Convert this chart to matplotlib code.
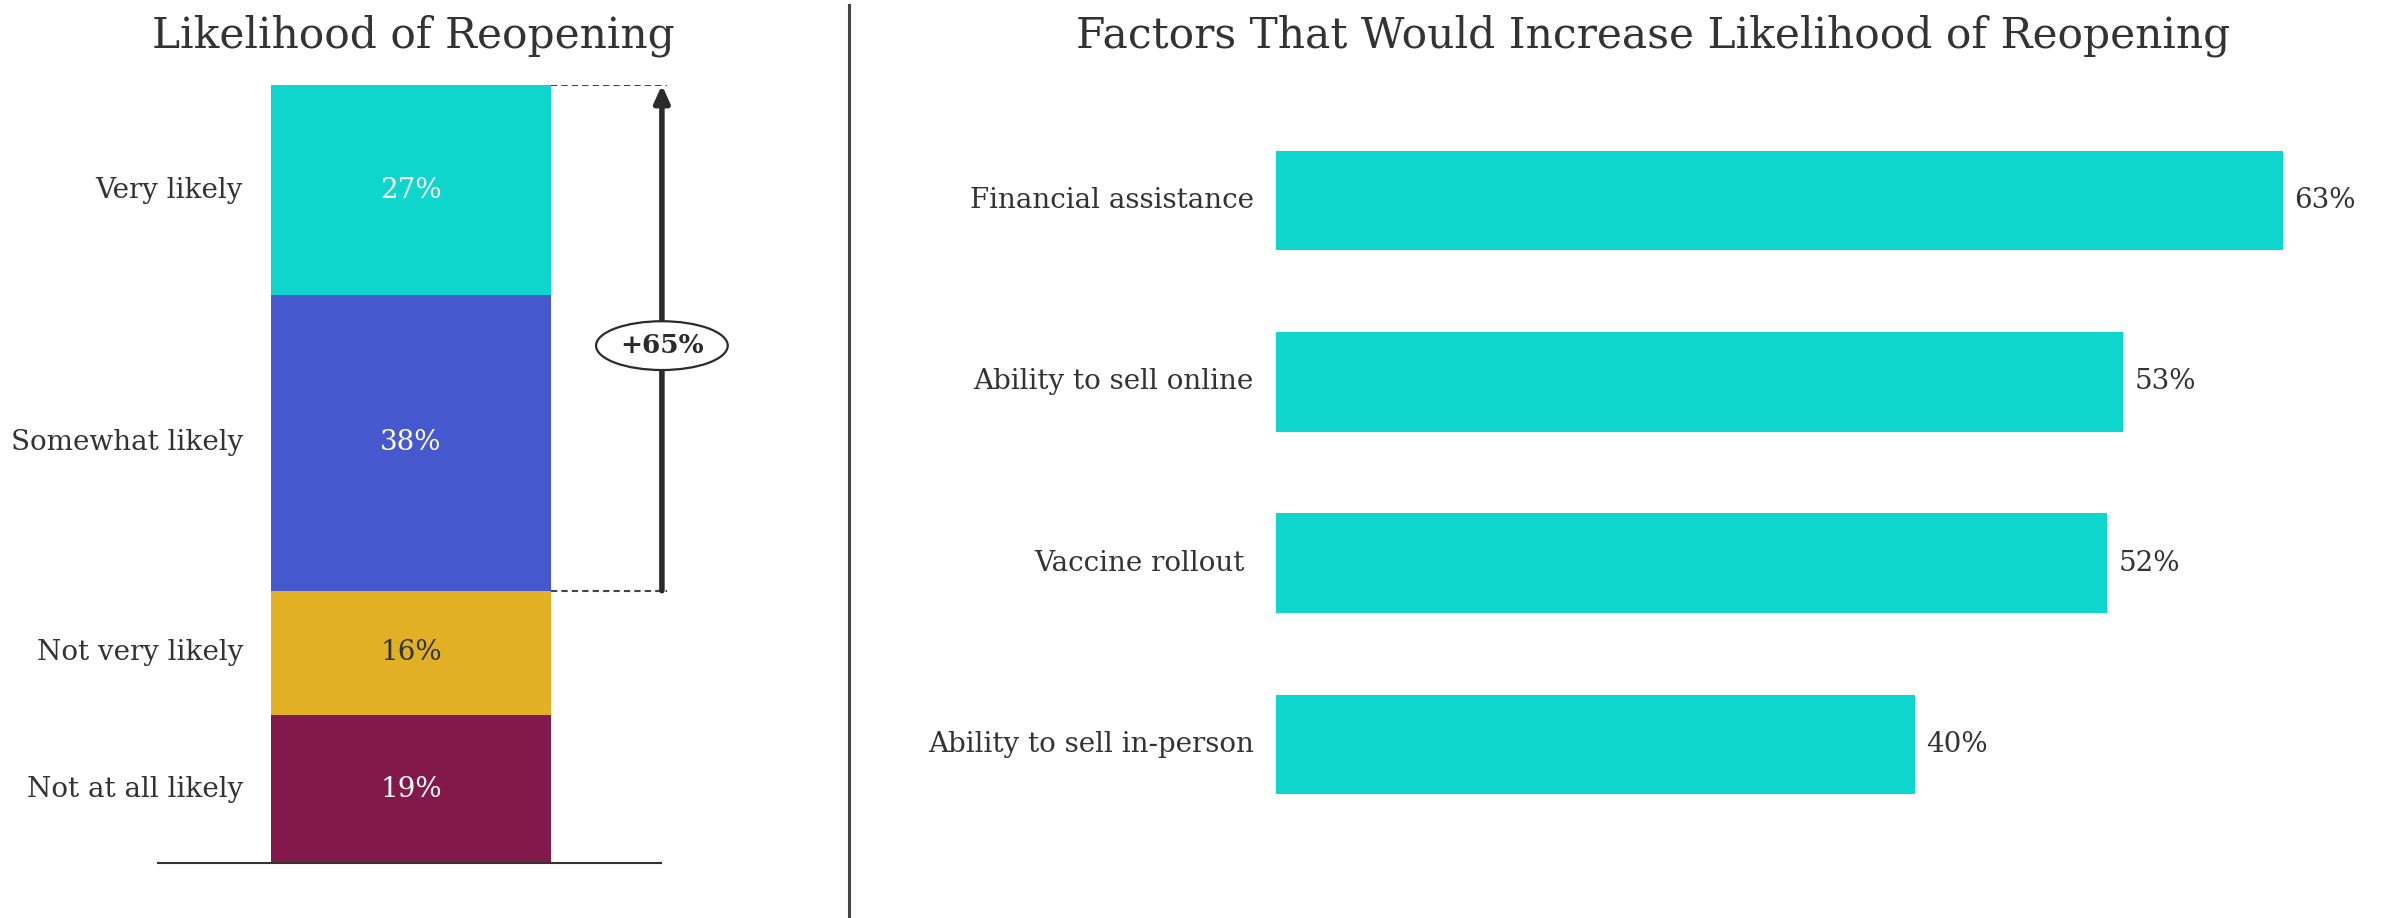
import numpy as np
import matplotlib.pyplot as plt

plt.rcParams['font.family'] = 'DejaVu Serif'

# left panel: stacked likelihood bar (bottom to top)
likelihood_labels = ['Not at all likely', 'Not very likely', 'Somewhat likely', 'Very likely']
likelihood_values = [19, 16, 38, 27]
likelihood_colors = ['#83184A', '#E2B024', '#4658CD', '#0FD6CC']
likelihood_text = ['white', '#333333', 'white', 'white']

# right panel: factors
factor_labels = ['Financial assistance', 'Ability to sell online', 'Vaccine rollout ', 'Ability to sell in-person']
factor_values = [63, 53, 52, 40]

dark = '#333333'
W, H = 2387, 918
fig = plt.figure(figsize=(W / 100, H / 100), dpi=100)

# ---- left: stacked bar
axl = fig.add_axes([158 / W, 55 / H, 589 / W, 778 / H])
x0, x1 = -0.904, 1.2
axl.set_xlim(x0, x1)
axl.set_ylim(0, 100)
axl.axis('off')

bottom = 0
for lab, v, c, tc in zip(likelihood_labels, likelihood_values, likelihood_colors, likelihood_text):
    axl.bar(0, v, width=1, bottom=bottom, color=c)
    axl.text(0, bottom + v / 2, f'{v}%', ha='center', va='center', fontsize=20, color=tc)
    axl.text(-0.6, bottom + v / 2, lab, ha='right', va='center', fontsize=20, color=dark)
    bottom += v

axl.plot([x0, 0.893], [0, 0], color=dark, lw=1.5, clip_on=False)

# bracket for the "likely" share
low = likelihood_values[0] + likelihood_values[1]
likely = likelihood_values[2] + likelihood_values[3]
ax_arrow = 0.896
for yy in (low, low + likely):
    axl.plot([0.5, ax_arrow + 0.02], [yy, yy], color='#444444', lw=1.5, ls=(0, (3, 2)))
axl.annotate('', xy=(ax_arrow, low + likely), xytext=(ax_arrow, low),
             arrowprops=dict(arrowstyle='-|>,head_width=0.45,head_length=1.0',
                             color='#2b2b2b', lw=4, shrinkA=0, shrinkB=0))
axl.text(ax_arrow, low + likely / 2 - 1, f'+{likely}%', ha='center', va='center',
         fontsize=19, fontweight='bold', color='#2b2b2b',
         bbox=dict(boxstyle='ellipse,pad=0.18', fc='white', ec='#2b2b2b', lw=1.6))

fig.text(413 / W, 1 - 36 / H, 'Likelihood of Reopening', ha='center', va='center',
         fontsize=30.5, color=dark)

# divider
fig.add_artist(plt.Line2D([849 / W, 849 / W], [0, 1 - 5 / H], color='#444444', lw=2.2))

# ---- right: horizontal bars
axr = fig.add_axes([1276 / W, 55 / H, 1007 / W, 778 / H])
pos = np.arange(len(factor_labels))
axr.barh(pos, factor_values, height=0.55, color='#0FD6CC')
axr.set_xlim(0, max(factor_values))
axr.set_ylim(3.654, -0.637)
axr.axis('off')
for p, lab, v in zip(pos, factor_labels, factor_values):
    axr.text(-1.4, p, lab, ha='right', va='center', fontsize=20, color=dark)
    axr.text(v + 0.7, p, f'{v}%', ha='left', va='center', fontsize=20, color=dark)

fig.text(1653 / W, 1 - 36 / H, 'Factors That Would Increase Likelihood of Reopening',
         ha='center', va='center', fontsize=30.5, color=dark)

fig.savefig('out.png', dpi=100, facecolor='white')
